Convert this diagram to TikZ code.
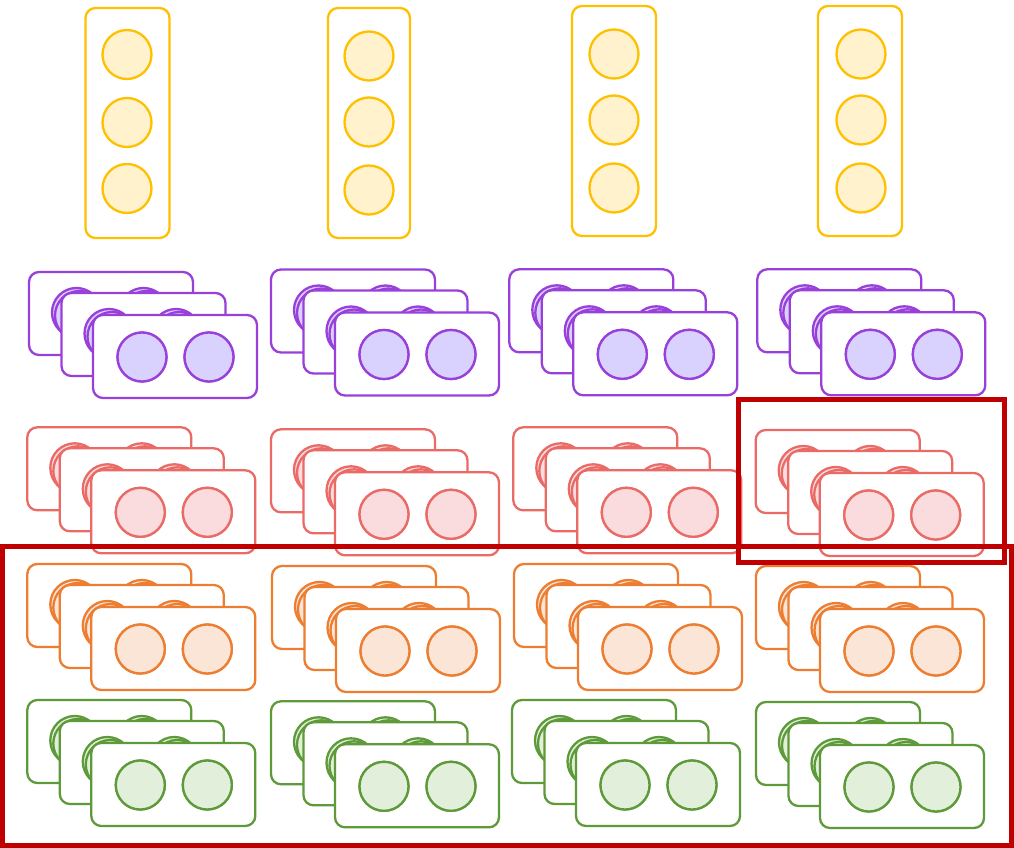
\documentclass[tikz,border=0pt]{standalone}
\definecolor{ylS}{HTML}{FFC000}
\definecolor{ylF}{HTML}{FFF2CC}
\definecolor{puS}{HTML}{9A40DA}
\definecolor{puF}{HTML}{D9D2FF}
\definecolor{rdS}{HTML}{EA6B66}
\definecolor{rdF}{HTML}{FADBDE}
\definecolor{orS}{HTML}{ED7D31}
\definecolor{orF}{HTML}{FBE5D6}
\definecolor{grS}{HTML}{5E9A3A}
\definecolor{grF}{HTML}{E2EFDA}
\definecolor{hlred}{HTML}{C00000}
\tikzset{
  layerbox/.style={line width=2.3pt, rounded corners=10pt, fill=white},
  ball/.style={line width=2.3pt},
  highlight/.style={line width=5pt, draw=hlred},
}
\newcommand\mystack[4]{%
  \foreach \dx/\dy/\s in {0/0/1.5, 32.5/21/1.5, 64/43/0}{%
    \draw[layerbox, draw=#3] (#1+\dx,#2+\dy) rectangle ++(164,83);
    \draw[ball, draw=#3, fill=#4] (#1+\dx+49-\s,#2+\dy+42-\s) circle[radius=24.5pt];
    \draw[ball, draw=#3, fill=#4] (#1+\dx+49+\s,#2+\dy+42+\s) circle[radius=24.5pt];
    \draw[ball, draw=#3, fill=#4] (#1+\dx+116-\s,#2+\dy+42-\s) circle[radius=24.5pt];
    \draw[ball, draw=#3, fill=#4] (#1+\dx+116+\s,#2+\dy+42+\s) circle[radius=24.5pt];
  }%
}
\newcommand\mycolumn[8]{%
  \draw[layerbox, draw=ylS] (#1,#2) rectangle (#3,#4);
  \foreach \cy in {#6,#7,#8}{%
    \draw[ball, draw=ylS, fill=ylF] (#5,\cy) circle[radius=24.5pt];
  }%
}
\begin{document}
\begin{tikzpicture}[x=1pt,y=-1pt]
\useasboundingbox (0,0) rectangle (1014,848);
% yellow columns
\mycolumn{85.5}{8}{169.5}{238}{127}{54.5}{122.5}{188.5}
\mycolumn{328}{8}{410}{238}{369}{56}{122}{190}
\mycolumn{572}{6}{656}{236}{614}{54}{120}{188}
\mycolumn{818}{6}{902}{236}{861}{54}{120}{188}
% purple
\mystack{29}{272}{puS}{puF}
\mystack{271}{269.5}{puS}{puF}
\mystack{509.3}{269.3}{puS}{puF}
\mystack{757.3}{269.3}{puS}{puF}
% red
\mystack{27.3}{427.3}{rdS}{rdF}
\mystack{271}{429.3}{rdS}{rdF}
\mystack{513.3}{427.3}{rdS}{rdF}
\mystack{755.7}{430}{rdS}{rdF}
% orange
\mystack{27.3}{564}{orS}{orF}
\mystack{272}{566}{orS}{orF}
\mystack{514}{564}{orS}{orF}
\mystack{756}{566}{orS}{orF}
% green
\mystack{27.3}{700}{grS}{grF}
\mystack{271}{701.3}{grS}{grF}
\mystack{512}{700}{grS}{grF}
\mystack{756}{702}{grS}{grF}
% highlights
\draw[highlight] (738.5,399.5) rectangle (1004,562);
\draw[highlight] (2.5,546) rectangle (1011.5,845.5);
\end{tikzpicture}
\end{document}
